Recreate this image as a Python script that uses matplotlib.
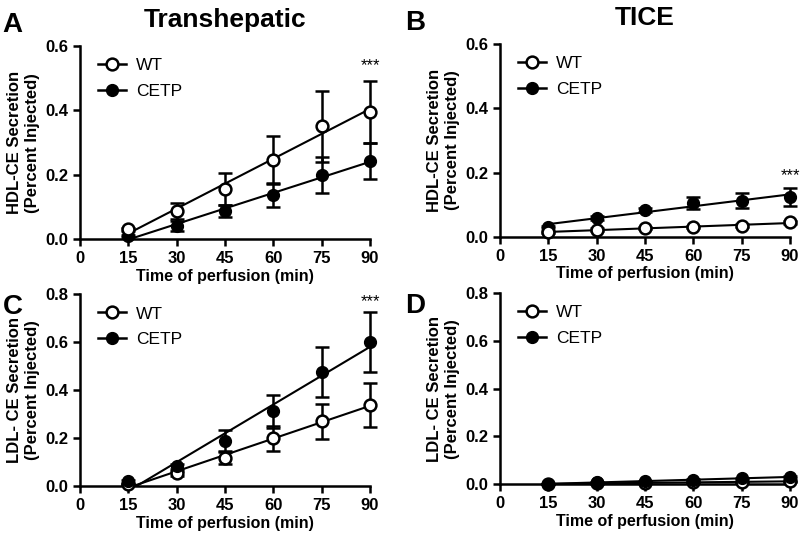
import numpy as np
import matplotlib
matplotlib.use('Agg')
import matplotlib.pyplot as plt

plt.rcParams['font.family'] = ['Liberation Sans', 'DejaVu Sans']

time = [15, 30, 45, 60, 75, 90]

# A - Transhepatic HDL-CE
a_wt = [0.030, 0.088, 0.155, 0.246, 0.351, 0.396]
a_wt_err = [0.005, 0.025, 0.049, 0.076, 0.110, 0.096]
a_cetp = [0.010, 0.040, 0.087, 0.137, 0.199, 0.243]
a_cetp_err = [0.004, 0.015, 0.018, 0.038, 0.057, 0.057]

# B - TICE HDL-CE
b_wt = [0.014, 0.023, 0.028, 0.031, 0.035, 0.045]
b_wt_err = [0.003, 0.004, 0.004, 0.004, 0.005, 0.006]
b_cetp = [0.031, 0.059, 0.084, 0.105, 0.113, 0.124]
b_cetp_err = [0.004, 0.006, 0.006, 0.018, 0.022, 0.027]

# C - Transhepatic LDL-CE
c_wt = [0.007, 0.053, 0.118, 0.200, 0.270, 0.338]
c_wt_err = [0.004, 0.010, 0.025, 0.052, 0.073, 0.090]
c_cetp = [0.020, 0.083, 0.190, 0.312, 0.476, 0.601]
c_cetp_err = [0.005, 0.010, 0.045, 0.070, 0.103, 0.124]

# D - TICE LDL-CE
d_wt = [0.000, 0.003, 0.005, 0.007, 0.009, 0.011]
d_wt_err = [0.001, 0.001, 0.001, 0.001, 0.001, 0.001]
d_cetp = [0.001, 0.007, 0.011, 0.018, 0.024, 0.030]
d_cetp_err = [0.001, 0.002, 0.002, 0.003, 0.003, 0.004]

fig = plt.figure(figsize=(8, 5.36), dpi=100)

panels = [
    ('A', [0.100, 0.554, 0.3625, 0.360], a_wt, a_wt_err, a_cetp, a_cetp_err,
     0.6, 'HDL-CE Secretion\n(Percent Injected)', 'Transhepatic', 0.54, False),
    ('B', [0.625, 0.558, 0.3625, 0.360], b_wt, b_wt_err, b_cetp, b_cetp_err,
     0.6, 'HDL-CE Secretion\n(Percent Injected)', 'TICE', 0.19, False),
    ('C', [0.100, 0.093, 0.3625, 0.358], c_wt, c_wt_err, c_cetp, c_cetp_err,
     0.8, 'LDL- CE Secretion\n(Percent Injected)', None, 0.77, True),
    ('D', [0.625, 0.097, 0.3625, 0.356], d_wt, d_wt_err, d_cetp, d_cetp_err,
     0.8, 'LDL- CE Secretion\n(Percent Injected)', None, None, True),
]

for letter, rect, wt, wt_err, cetp, cetp_err, ymax, ylab, title, star_y, cetp_top in panels:
    ax = fig.add_axes(rect)
    xs = np.array(time)
    xfit = np.array([15, 90])

    # linear regression lines
    for y in (cetp, wt):
        p = np.polyfit(xs, y, 1)
        ax.plot(xfit, np.polyval(p, xfit), color='black', lw=1.5, zorder=2)

    ax.errorbar(time, cetp, yerr=cetp_err, fmt='o', color='black', ms=8.5,
                mfc='black', mec='black', elinewidth=1.8, capsize=5, capthick=1.8,
                zorder=5 if cetp_top else 3, clip_on=False)
    ax.errorbar(time, wt, yerr=wt_err, fmt='o', color='black', ms=8.5,
                mfc='white', mec='black', mew=1.8, elinewidth=1.8, capsize=5,
                capthick=1.8, zorder=4, clip_on=False)

    # legend handles
    h_wt, = ax.plot([], [], '-o', color='black', mfc='white', mew=1.8, ms=8.5, lw=1.8)
    h_cetp, = ax.plot([], [], '-o', color='black', mfc='black', ms=8.5, lw=1.8)
    ax.legend([h_wt, h_cetp], ['WT', 'CETP'], loc='upper left', frameon=False,
              fontsize=12.5, handlelength=1.6, handletextpad=0.6,
              borderaxespad=0.3, labelspacing=0.6, bbox_to_anchor=(0.02, 1.0))

    ax.set_xlim(0, 90)
    ax.set_ylim(0, ymax)
    ax.set_xticks([0, 15, 30, 45, 60, 75, 90])
    ax.set_yticks(np.arange(0, ymax + 0.001, 0.2))
    ax.set_yticklabels(['%.1f' % v for v in np.arange(0, ymax + 0.001, 0.2)])
    for s in ('top', 'right'):
        ax.spines[s].set_visible(False)
    for s in ('left', 'bottom'):
        ax.spines[s].set_linewidth(1.8)
    ax.tick_params(width=1.8, length=5, labelsize=12)
    for lbl in ax.get_xticklabels() + ax.get_yticklabels():
        lbl.set_fontweight('bold')

    ax.set_xlabel('Time of perfusion (min)', fontsize=11.5, fontweight='bold', labelpad=2)
    ax.set_ylabel(ylab, fontsize=12, fontweight='bold', labelpad=4)
    if title:
        ax.set_title(title, fontsize=19, fontweight='bold', pad=14)
    if star_y is not None:
        ax.text(90, star_y, '***', ha='center', va='center', fontsize=12)

    fx = 0.003 if rect[0] < 0.5 else 0.506
    fy = rect[1] + rect[3] + (0.063 if title else 0.0)
    fig.text(fx, fy, letter, fontsize=20, fontweight='bold', va='top', ha='left')

fig.savefig('out.png', dpi=100)
